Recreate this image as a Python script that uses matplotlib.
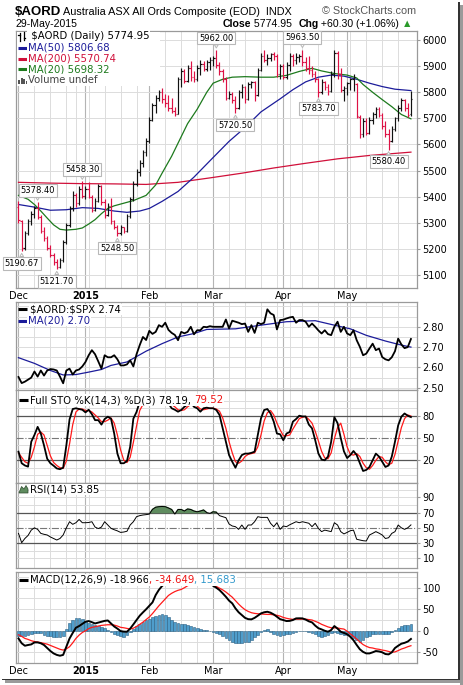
import numpy as np
import pandas as pd
import matplotlib
matplotlib.use('Agg')
import matplotlib.pyplot as plt
from matplotlib.patches import Rectangle

# ── Config ────────────────────────────────────────────────
W, H = 464, 685
LEFT, RIGHT = 16, 417
GRID = '#dcdcdc'
MONTH_GRID = '#b4b4b4'
SPINE = '#9a9a9a'
UP, DOWN = '#111111', '#dd1144'

# ── Data ──────────────────────────────────────────────────
holidays = ['2014-12-25', '2014-12-26', '2015-01-01', '2015-01-26', '2015-04-03', '2015-04-06']
dates = pd.bdate_range('2014-12-01', '2015-05-29')
dates = dates[~dates.isin(pd.to_datetime(holidays))]

opens = [5360, 5305, 5205, 5262, 5305, 5335, 5355, 5322, 5270, 5240, 5205, 5178, 5150, 5132, 5158, 5228, 5292, 5355, 5405, 5375, 5430,
         5402, 5430, 5400, 5350, 5385, 5440, 5380, 5330, 5365, 5305, 5285, 5262, 5282, 5270, 5325, 5390, 5450, 5495, 5530, 5570,
         5615, 5695, 5750, 5780, 5800, 5775, 5760, 5740, 5730, 5718, 5850, 5880, 5845, 5895, 5860, 5850, 5895, 5910, 5890, 5915,
         5925, 5930, 5905, 5880, 5850, 5780, 5795, 5770, 5740, 5800, 5820, 5775, 5830, 5840, 5790, 5885, 5940, 5925, 5930, 5945, 5940, 5870,
         5900, 5860, 5905, 5940, 5925, 5935, 5940, 5915, 5895, 5885, 5870, 5850, 5800, 5840, 5820, 5805, 5870, 5950, 5870, 5810,
         5815, 5835, 5850, 5830, 5705, 5640, 5690, 5645, 5695, 5715, 5735, 5712, 5670, 5640, 5615, 5660, 5700, 5740, 5770, 5740, 5715]
highs = [5385, 5310, 5270, 5315, 5345, 5365, 5378.40, 5330, 5285, 5250, 5215, 5185, 5160, 5165, 5235, 5300, 5365, 5420, 5415, 5440, 5458.30,
         5440, 5455, 5405, 5395, 5450, 5445, 5390, 5375, 5395, 5310, 5290, 5290, 5285, 5335, 5400, 5460, 5505, 5540, 5580, 5625,
         5705, 5760, 5790, 5810, 5815, 5795, 5790, 5780, 5745, 5860, 5895, 5890, 5905, 5920, 5880, 5905, 5925, 5920, 5925, 5935,
         5940, 5962.00, 5915, 5890, 5860, 5805, 5800, 5785, 5810, 5830, 5825, 5840, 5845, 5845, 5895, 5950, 5962, 5945, 5950, 5955, 5945, 5910,
         5910, 5915, 5950, 5945, 5950, 5945, 5963.50, 5935, 5940, 5900, 5880, 5855, 5850, 5845, 5830, 5880, 5962, 5960, 5895, 5825,
         5840, 5855, 5870, 5835, 5712, 5700, 5700, 5705, 5725, 5745, 5745, 5720, 5690, 5660, 5670, 5705, 5750, 5780, 5775, 5760, 5805]
lows = [5300, 5190.67, 5195, 5255, 5290, 5320, 5315, 5262, 5232, 5195, 5168, 5140, 5121.70, 5125, 5150, 5220, 5285, 5345, 5360, 5370, 5395,
        5390, 5395, 5340, 5345, 5380, 5370, 5320, 5325, 5295, 5275, 5248.50, 5255, 5260, 5265, 5320, 5385, 5440, 5480, 5515, 5555,
        5605, 5690, 5720, 5765, 5760, 5745, 5730, 5720, 5710, 5715, 5820, 5835, 5840, 5845, 5840, 5845, 5865, 5880, 5880, 5885,
        5900, 5895, 5865, 5840, 5770, 5775, 5760, 5720.50, 5735, 5780, 5760, 5770, 5815, 5765, 5785, 5880, 5915, 5905, 5920, 5925, 5860, 5850,
        5850, 5850, 5880, 5900, 5910, 5915, 5900, 5880, 5870, 5860, 5840, 5783.70, 5795, 5810, 5790, 5800, 5860, 5850, 5800, 5765,
        5790, 5810, 5805, 5700, 5625, 5630, 5635, 5640, 5680, 5700, 5705, 5660, 5630, 5580.40, 5610, 5650, 5690, 5730, 5730, 5705, 5710]
closes = [5310, 5205, 5262, 5305, 5335, 5355, 5322, 5270, 5240, 5205, 5178, 5150, 5132, 5158, 5228, 5292, 5355, 5405, 5375, 5430, 5402,
          5430, 5400, 5350, 5385, 5440, 5380, 5330, 5365, 5305, 5285, 5262, 5282, 5270, 5325, 5390, 5450, 5495, 5530, 5570, 5615,
          5695, 5750, 5780, 5800, 5775, 5760, 5740, 5730, 5718, 5850, 5880, 5845, 5895, 5860, 5850, 5895, 5910, 5890, 5915, 5925,
          5930, 5905, 5880, 5850, 5780, 5795, 5770, 5740, 5800, 5820, 5775, 5830, 5840, 5790, 5885, 5940, 5925, 5930, 5945, 5940, 5870, 5900,
          5860, 5905, 5940, 5925, 5935, 5940, 5915, 5895, 5885, 5870, 5850, 5800, 5840, 5820, 5805, 5870, 5950, 5870, 5810, 5815,
          5835, 5850, 5860, 5710, 5640, 5690, 5645, 5695, 5715, 5735, 5712, 5670, 5640, 5615, 5660, 5700, 5740, 5770, 5740, 5714.65, 5774.95]

# moving averages, read as vertices (bar index, value)
ma50_idx = [0, 5, 10, 15, 20, 25, 30, 34, 38, 41, 45, 50, 55, 61, 66, 71, 76, 82, 86, 90, 94, 98, 102, 106, 110, 114, 118, 123]
ma50_val = [5370, 5360, 5348, 5350, 5358, 5355, 5345, 5340, 5345, 5355, 5382, 5420, 5475, 5550, 5612, 5665, 5725, 5775,
            5810, 5840, 5858, 5866, 5862, 5850, 5835, 5822, 5812, 5806.68]
ma200_idx = [0, 10, 20, 30, 40, 50, 60, 70, 80, 90, 100, 110, 123]
ma200_val = [5455, 5452, 5450, 5449, 5447, 5455, 5472, 5490, 5510, 5528, 5545, 5558, 5570.74]
ma20_idx = [0, 3, 5, 7, 9, 11, 13, 15, 18, 20, 22, 24, 26, 28, 30, 33, 36, 40, 43, 45, 48, 50, 53, 56, 59, 61, 64, 67,
            71, 76, 80, 84, 88, 92, 95, 99, 103, 106, 108, 111, 114, 117, 120, 123]
ma20_val = [5405, 5390, 5370, 5345, 5318, 5292, 5275, 5272, 5275, 5280, 5295, 5312, 5335, 5355, 5365, 5375, 5385, 5405,
            5445, 5490, 5555, 5605, 5680, 5735, 5800, 5835, 5850, 5858, 5860, 5858, 5858, 5865, 5880, 5892, 5882, 5872,
            5866, 5855, 5830, 5800, 5772, 5745, 5715, 5698.32]

ratio = [2.553, 2.523, 2.530, 2.540, 2.550, 2.580, 2.555, 2.585, 2.560, 2.585, 2.592, 2.590, 2.585, 2.555, 2.522, 2.585,
         2.594, 2.565, 2.585, 2.590, 2.605, 2.627, 2.660, 2.685, 2.665, 2.630, 2.594, 2.660, 2.650, 2.650, 2.660, 2.640,
         2.610, 2.610, 2.615, 2.635, 2.605, 2.665, 2.710, 2.750, 2.735, 2.780, 2.765, 2.775, 2.808, 2.800, 2.820, 2.785,
         2.770, 2.760, 2.734, 2.775, 2.768, 2.775, 2.800, 2.763, 2.783, 2.783, 2.800, 2.798, 2.803, 2.800, 2.800, 2.800,
         2.800, 2.836, 2.792, 2.830, 2.825, 2.820, 2.813, 2.816, 2.775, 2.808, 2.770, 2.820, 2.813, 2.820, 2.886, 2.866,
         2.858, 2.787, 2.833, 2.835, 2.841, 2.846, 2.849, 2.820, 2.833, 2.833, 2.825, 2.800, 2.816, 2.800, 2.782, 2.767,
         2.783, 2.764, 2.759, 2.800, 2.825, 2.775, 2.800, 2.767, 2.759, 2.783, 2.734, 2.701, 2.660, 2.668, 2.693, 2.717,
         2.685, 2.693, 2.651, 2.640, 2.635, 2.650, 2.680, 2.742, 2.713, 2.695, 2.700, 2.740]
ratio_ma_idx = [0, 5, 10, 14, 18, 22, 26, 29, 34, 40, 45, 50, 55, 59, 68, 76, 84, 93, 99, 104, 109, 115, 120, 123]
ratio_ma_val = [2.648, 2.620, 2.585, 2.563, 2.565, 2.577, 2.590, 2.610, 2.627, 2.680, 2.717, 2.750, 2.767, 2.787, 2.790,
                2.808, 2.825, 2.830, 2.808, 2.790, 2.758, 2.730, 2.710, 2.700]

sto_k = [31.6, 16, 13, 11.4, 45, 54, 65, 56, 40, 22, 16, 12.7, 9, 8, 10, 40, 75, 89, 90, 89, 88, 84.5, 88, 82, 74, 74,
         68, 75.5, 78.7, 76, 56, 29, 16, 16, 19, 38, 76, 85, 99, 100, 100, 98, 100, 99, 98, 97, 99, 96.6, 90, 88, 85.4,
         87.7, 92, 95, 98, 92, 90, 85.4, 90, 90.8, 90, 90, 87.7, 81, 63, 45, 27, 18, 10, 20, 27, 29, 29, 30, 31.6, 54,
         76.4, 87.7, 89, 83, 72, 56, 55, 47, 56, 58, 72, 75.5, 80, 79, 79, 68, 63, 47, 29, 21, 20, 25, 45, 78, 70, 50,
         32, 23, 27, 32.5, 27, 16, 5.6, 7, 11, 20, 29, 25, 18, 11, 13, 25, 45, 67, 78.7, 83, 80, 78.19]
sto_d = [30, 24, 18, 16, 24, 38, 55, 58, 54, 40, 26, 17, 13, 10, 9, 19, 42, 68, 85, 89, 89, 87, 87, 85, 81, 77, 72, 72,
         74, 77, 70, 54, 34, 20, 17, 24, 44, 66, 87, 95, 99, 99, 99, 99, 99, 98, 98, 97, 95, 92, 88, 87, 88, 92, 95, 95,
         93, 89, 88, 89, 90, 90, 89, 86, 77, 63, 45, 30, 18, 16, 19, 25, 28, 29, 30, 38, 54, 73, 84, 87, 81, 70, 61, 53,
         53, 54, 62, 69, 76, 78, 79, 75, 70, 59, 46, 32, 23, 22, 30, 49, 64, 70, 55, 38, 28, 27, 29, 25, 16, 10, 8, 13,
         20, 25, 24, 18, 14, 16, 28, 46, 64, 76, 81, 79.52]

rsi = [42.7, 30.5, 36, 40, 47, 50, 48, 42.7, 41.5, 40.6, 38, 36, 34, 36, 40.6, 50, 58, 54.6, 56.7, 61, 56.7, 56.7, 57,
       58, 51, 49, 51, 58, 53.7, 49.3, 47.5, 46, 44, 44.5, 45.5, 53.7, 58, 64.6, 66, 66.8, 67.3, 68, 74.2, 77, 77.7, 78,
       77.7, 76, 74, 68, 74, 74, 72, 74.7, 74, 72, 71, 72, 73.4, 70, 69, 71, 70.5, 66, 64.6, 63.3, 55, 52.4, 51.5, 48,
       53.7, 48, 53.7, 53.7, 58, 64.6, 63.7, 63.7, 63.7, 55.9, 51.5, 56.7, 48, 52.4, 51.5, 54, 56, 58, 56.7, 58, 57, 56,
       51.5, 56, 49.3, 45, 47, 46, 45, 56.7, 53.7, 45, 42, 44, 46.2, 47, 35, 34, 33.1, 32.7, 40.6, 42.7, 45, 43, 40.6,
       36, 37, 42.7, 45, 53.7, 50, 48, 50, 53.85]

macd = [-17.7, -29, -34.7, -33, -31.6, -27, -27, -29, -33, -40, -47, -52.5, -56, -57.9, -56, -37, -18, -5, 7.1, 11, 16,
        21, 22.6, 20, 17, 19, 21, 23, 24, 17, 10, 5, -0.7, -2, -2.2, 5, 14.8, 25, 35, 42.7, 50, 58, 66, 83, 95, 104, 110,
        115, 118, 118, 116, 118, 122, 124, 124, 122, 120, 118, 116, 113, 110, 104.6, 100, 94.5, 87, 79, 70, 63.6, 52, 43,
        36.5, 30, 27, 26.5, 30, 35, 40.4, 43, 44.2, 42, 38, 32.6, 27, 24.9, 22.6, 23, 25, 28.8, 29, 28.8, 26, 22, 19.5, 12,
        6, 3.2, 0, -2.2, 1.7, 11, 5, -2.2, -5, -8, -14, -22, -33, -43, -49, -52.5, -52.5, -50, -47, -48, -50, -54, -54.8,
        -50, -40, -34.7, -30, -28, -25, -18.966]
signal = [-9.3, -13, -17.7, -20, -23, -25, -26, -27.5, -29.3, -31, -34, -37, -40, -43, -44.8, -42, -37, -28, -17.7, -10,
          -4, 0, 5, 8, 9.4, 11, 12.5, 13.3, 14, 14, 13.3, 11, 8, 7, 5.5, 4, 6, 10, 15, 20, 26, 32, 40, 49, 58, 66, 74, 82,
          87, 91, 94, 96, 100, 104.6, 108, 110, 111, 112, 112, 111, 109, 106, 103, 99, 95, 90, 84, 78, 70, 62, 55, 49, 45,
          42, 40.4, 39.5, 39, 38.5, 38, 38, 37, 36, 34, 31, 29, 27.5, 26.5, 27, 27, 27.2, 27, 26, 25, 22, 19, 15, 12, 9, 7,
          7, 6.5, 5, 4, -1, -7, -13, -19, -26, -32, -36, -39, -40, -42, -43, -44.8, -46, -48, -50, -49, -46, -42.4, -40,
          -37, -34.649]
hist = [-11, -12, -12, -9, -8, -6, -5, -6, -9, -11, -13, -14, -15, -15, -12, 5, 18, 25, 29, 29, 27, 23, 19, 15, 13, 11,
        9, 6, 2, -3, -7, -10, -12, -14, -10, -3, 5, 10, 16, 21, 24, 27, 31, 35, 37, 38, 37, 33, 25, 21, 17, 16, 15, 13, 11,
        9, 6, 4, 2, 1, -1, -3, -5, -7, -11, -16, -21, -26, -28, -29, -28, -27, -25, -21, -15, -9, -3, 1, 3, -3, -7, -10,
        -11, -10, -8, -7, -4, -2, -1, 0, -1, -3, -5, -8, -12, -14, -13, -9, -5, -3, -5, -7, -9, -10, -13, -16, -22, -25,
        -21, -15, -11, -8, -7, -7, -8, -8, -7, -3, 2, 6, 11, 13, 14, 15.683]

# labelled extremes on the price panel: (bar index, 'high' or 'low')
peaks = [(1, 'low'), (6, 'high'), (12, 'low'), (20, 'high'), (31, 'low'), (62, 'high'),
         (68, 'low'), (89, 'high'), (94, 'low'), (116, 'low')]

# ── Helpers ───────────────────────────────────────────────
n = len(closes)
x = np.arange(n)
month_idx = [0] + [i for i in range(1, n) if dates[i].month != dates[i - 1].month]
month_lbl = ['Dec', '2015', 'Feb', 'Mar', 'Apr', 'May']
week_idx = [i for i in range(1, n) if dates[i].weekday() < dates[i - 1].weekday()]

fig = plt.figure(figsize=(W / 100, H / 100), dpi=100)
fig.patch.set_facecolor('white')


def panel(top, bottom, ylim, yticks, fmt='{:.0f}', hgrid=None):
    ax = fig.add_axes([LEFT / W, 1 - bottom / H, (RIGHT - LEFT) / W, (bottom - top) / H])
    ax.set_xlim(-0.78, 124.9)
    ax.set_ylim(*ylim)
    for s in ax.spines.values():
        s.set_color(SPINE)
        s.set_linewidth(0.9)
    for i in week_idx:
        ax.axvline(i, color=GRID, lw=0.7, zorder=0)
    for i in month_idx:
        ax.axvline(i, color=MONTH_GRID, lw=0.8, zorder=0)
    for v in (hgrid if hgrid is not None else yticks):
        ax.axhline(v, color=GRID, lw=0.7, zorder=0)
    ax.yaxis.tick_right()
    ax.set_yticks(yticks)
    ax.set_yticklabels([fmt.format(v) for v in yticks])
    ax.tick_params(axis='y', labelsize=7, length=2, pad=2, color=SPINE)
    ax.set_xticks(month_idx)
    ax.set_xticklabels([])
    ax.tick_params(axis='x', length=0)
    return ax


def xlabels(ax):
    ax.set_xticklabels(month_lbl)
    ax.tick_params(axis='x', labelsize=7, pad=2)
    for t in ax.get_xticklabels():
        if t.get_text() == '2015':
            t.set_fontweight('bold')


# overlay for header, legends and frame (pixel coords)
ov = fig.add_axes([0, 0, 1, 1], zorder=10)
ov.set_xlim(0, W)
ov.set_ylim(H, 0)
ov.axis('off')
ov.patch.set_alpha(0)


def chain(x0, y0, pieces, size=7.3, family='DejaVu Sans', box=True):
    t = None
    for s, color, weight in pieces:
        kw = dict(fontsize=size, color=color, fontweight=weight, family=family, va='center', ha='left')
        if box:
            kw['bbox'] = dict(fc='white', ec='none', pad=0.5)
        if t is None:
            t = ov.text(x0, y0, s, **kw)
        else:
            t = ov.annotate(s, xy=(1, 0.5), xycoords=t, **kw)
    return t


def dash(x0, y0, color):
    ov.plot([x0, x0 + 9], [y0, y0], color=color, lw=2.2, solid_capstyle='butt')


# ── Price panel ───────────────────────────────────────────
ax = panel(31, 288, (5050, 6035), list(range(5100, 6001, 100)))
xlabels(ax)
colors = [DOWN] + [UP if closes[i] >= closes[i - 1] else DOWN for i in range(1, n)]
ax.vlines(x, lows, highs, colors=colors, lw=0.85, zorder=4)
ax.hlines(opens, x - 0.45, x, colors=colors, lw=0.85, zorder=4)
ax.hlines(closes, x, x + 0.45, colors=colors, lw=0.85, zorder=4)
ax.plot(ma200_idx, ma200_val, color='#d0103a', lw=0.9, zorder=3)
ax.plot(ma50_idx, ma50_val, color='#1c1c9a', lw=0.9, zorder=3)
ax.plot(ma20_idx, ma20_val, color='#1d7a1d', lw=0.9, zorder=3)
for i, kind in peaks:
    v = highs[i] if kind == 'high' else lows[i]
    dy = 8.6 if kind == 'high' else -8.6
    ax.annotate(f'{v:.2f}', xy=(i, v), xytext=(0, dy), textcoords='offset points',
                ha='center', va='center', fontsize=6, family='DejaVu Sans', zorder=6,
                bbox=dict(boxstyle='square,pad=0.22', fc='white', ec='#b8b8b8', lw=0.8),
                arrowprops=dict(arrowstyle='wedge,tail_width=0.45', fc='white', ec='#b8b8b8',
                                lw=0.7, shrinkA=0, shrinkB=1.5))

# ── Ratio panel ───────────────────────────────────────────
ax2 = panel(302, 390, (2.489, 2.922), [2.5, 2.6, 2.7, 2.8], fmt='{:.2f}',
            hgrid=[2.5, 2.55, 2.6, 2.65, 2.7, 2.75, 2.8, 2.85, 2.9])
ax2.plot(ratio_ma_idx, ratio_ma_val, color='#1c1c9a', lw=0.9, zorder=3)
ax2.plot(x, ratio, color='black', lw=1.3, zorder=4)

# ── Full stochastics ──────────────────────────────────────
ax3 = panel(390, 483, (-10.6, 114.6), [20, 50, 80], hgrid=[0, 10, 30, 40, 60, 70, 90, 100])
ax3.axhline(80, color='#555555', lw=0.9, zorder=1)
ax3.axhline(20, color='#555555', lw=0.9, zorder=1)
ax3.axhline(50, color='#777777', lw=0.8, ls='-.', zorder=1)
ax3.plot(x, sto_d, color='#ff1a1a', lw=0.9, zorder=3)
ax3.plot(x, sto_k, color='black', lw=1.3, zorder=4)

# ── RSI ───────────────────────────────────────────────────
ax4 = panel(483, 568, (-2.7, 108.8), [10, 30, 50, 70, 90], hgrid=[10, 20, 40, 60, 80, 90, 100])
ax4.axhline(70, color='#555555', lw=0.9, zorder=1)
ax4.axhline(30, color='#555555', lw=0.9, zorder=1)
ax4.axhline(50, color='#777777', lw=0.8, ls='-.', zorder=1)
rsi_a = np.array(rsi)
ax4.fill_between(x, 70, rsi_a, where=rsi_a >= 70, interpolate=True, color='#5f8c5f', zorder=2)
ax4.plot(x, rsi, color='black', lw=0.7, zorder=4)

# ── MACD ──────────────────────────────────────────────────
ax5 = panel(572, 663, (-74.8, 136.5), [-50, 0, 50, 100], hgrid=[-50, -25, 0, 25, 50, 75, 100, 125])
xlabels(ax5)
ax5.bar(x, hist, width=0.85, color='#4f9dcb', edgecolor='#2c6184', lw=0.4, zorder=2)
ax5.plot(x, signal, color='#ff1a1a', lw=0.9, zorder=3)
ax5.plot(x, macd, color='black', lw=1.4, zorder=4)

# ── Header ────────────────────────────────────────────────
ov.text(15, 15, r'\$AORD', fontsize=9.5, fontweight='bold', family='Liberation Sans', va='baseline')
ov.text(63, 15, 'Australia ASX All Ords Composite (EOD)  INDX', fontsize=7.8,
        family='Liberation Sans', va='baseline')
ov.text(416, 14, '\u00a9 StockCharts.com', fontsize=7.8, family='Liberation Sans',
        color='#555555', va='baseline', ha='right')
ov.text(16, 27, '29-May-2015', fontsize=7.6, family='Liberation Sans', va='baseline')
chain(223, 23.5, [('Close', 'black', 'bold'), (' 5774.95  ', 'black', 'normal'),
                  ('Chg', 'black', 'bold'), (' +60.30 (+1.06%) ', 'black', 'normal'),
                  ('\u25b2', '#2a9a2a', 'normal')],
      size=7.6, family=['Liberation Sans', 'DejaVu Sans'], box=False)

# ── Legends ───────────────────────────────────────────────
ov.add_patch(Rectangle((17, 32), 143, 54, fc='white', ec='none'))
ov.plot([20, 20], [33, 41], color='black', lw=0.9)
ov.plot([18.5, 20], [35, 35], color='black', lw=0.9)
ov.plot([24, 24], [32, 40], color='black', lw=0.9)
ov.plot([24, 25.5], [38, 38], color='black', lw=0.9)
chain(28, 36, [(r' \$AORD (Daily) 5774.95', 'black', 'normal')])
dash(18, 47.5, '#1c1c9a')
chain(28, 47.5, [('MA(50) 5806.68', '#1c1c9a', 'normal')])
dash(18, 58.5, '#d0103a')
chain(28, 58.5, [('MA(200) 5570.74', '#d0103a', 'normal')])
dash(18, 69.3, '#1d7a1d')
chain(28, 69.3, [('MA(20) 5698.32', '#1d7a1d', 'normal')])
for bx, bh in [(18.5, 4), (21, 6), (23.5, 5), (26, 3)]:
    ov.add_patch(Rectangle((bx, 84 - bh), 1.8, bh, fc='#555555', ec='none'))
chain(28, 80, [('Volume undef', '#444444', 'normal')])

dash(18, 309.3, 'black')
chain(30, 309.3, [(r'\$AORD:\$SPX 2.74', 'black', 'normal')])
dash(18, 320.7, '#1c1c9a')
chain(28, 320.7, [('MA(20) 2.70', '#1c1c9a', 'normal')])

dash(19, 400, 'black')
chain(30, 400, [('Full STO %K(14,3) %D(3) 78.19, ', 'black', 'normal'), ('79.52', '#ee1111', 'normal')])

ov.fill([19, 21.5, 24, 26, 28, 28, 19], [493, 486.5, 489, 485.5, 489, 493, 493],
        fc='#5f8c5f', ec='#2d4a2d', lw=0.5)
chain(30, 489.3, [('RSI(14) 53.85', 'black', 'normal')])

dash(19, 580, 'black')
chain(30, 580, [('MACD(12,26,9) -18.966', 'black', 'normal'), (', -34.649', '#ee1111', 'normal'),
                (', 15.683', '#3399cc', 'normal')])

# ── Frame shadow ──────────────────────────────────────────
ov.add_patch(Rectangle((458, 2), 1.6, 678, fc='#333333', ec='none'))
ov.add_patch(Rectangle((459.6, 5), 3, 680, fc='#9a9a9a', ec='none'))
ov.add_patch(Rectangle((2, 678.6), 457.6, 1.6, fc='#333333', ec='none'))
ov.add_patch(Rectangle((5, 680.2), 457.6, 3, fc='#9a9a9a', ec='none'))

fig.savefig('out.png', dpi=100)
